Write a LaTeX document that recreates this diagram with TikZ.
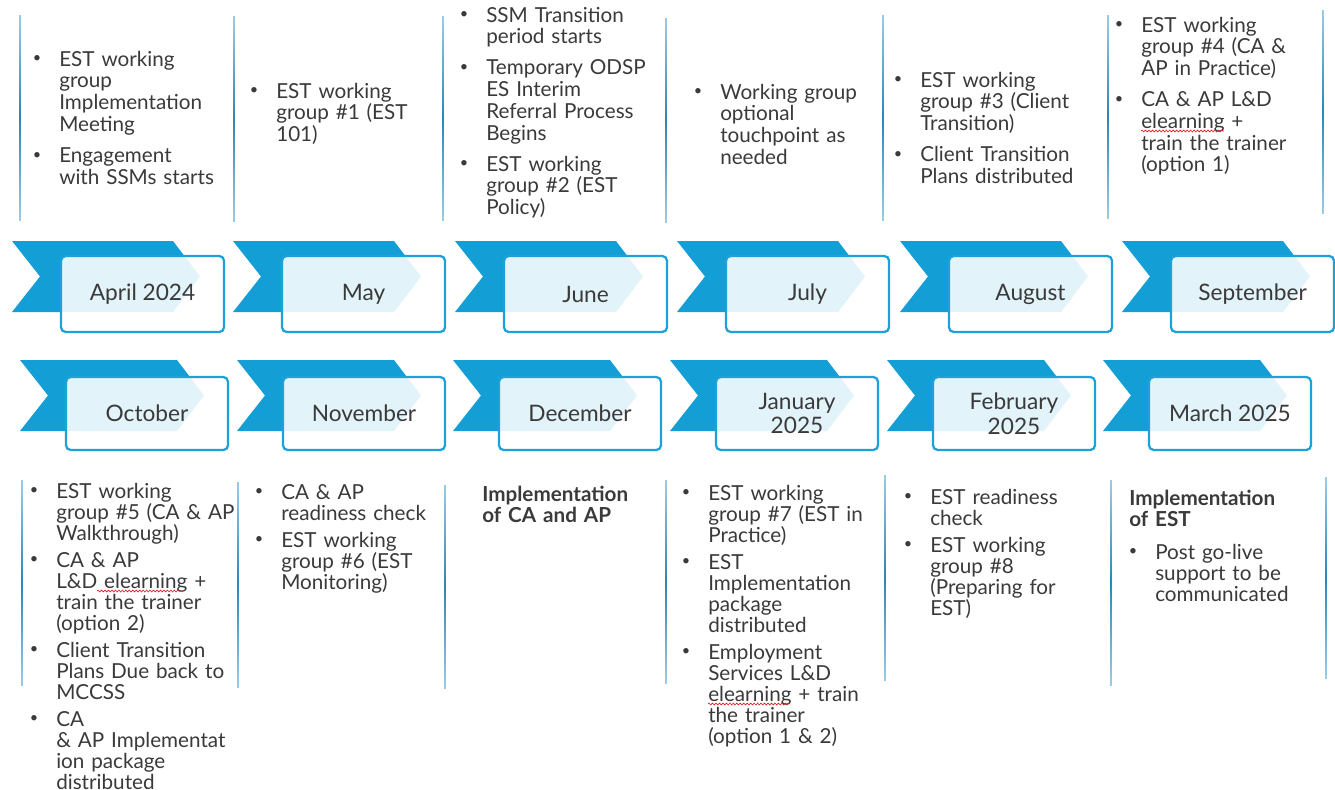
\documentclass[tikz,border=0pt]{standalone}
\usepackage{fontspec}
\setmainfont{Lato}
\usetikzlibrary{decorations.pathmorphing}
\definecolor{chev}{HTML}{139FD6}
\definecolor{boxb}{HTML}{1DA1D8}
\definecolor{txt}{HTML}{3A3A3A}
\definecolor{vl}{HTML}{2E85B5}
\definecolor{vlend}{HTML}{9CCBE4}
\definecolor{spell}{HTML}{E02020}
\newcommand\bl{\noindent\llap{\raisebox{0.15em}{\scalebox{0.7}{\textbullet}}\hspace{13.5pt}}}
\newcommand\isepA{\par\vspace{7pt}}
\newcommand\isepB{\par\vspace{4.5pt}}
\tikzset{
  x=0.75pt, y=-0.75pt,
  chevron/.style={fill=chev},
  monthbox/.style={draw=boxb, line width=1.7pt, rounded corners=3.5pt, fill=white,
    fill opacity=0.88, text opacity=1, text=txt, align=center, inner sep=0pt,
    font=\fontsize{17}{18.5}\selectfont},
  rowA/.style={monthbox, minimum width=122.25pt, minimum height=57pt},
  rowB/.style={monthbox, minimum width=121.5pt, minimum height=54.75pt},
  col/.style={anchor=base west, inner sep=0pt, text width=180pt, text=txt,
    font=\fontsize{15.5}{16.3}\selectfont},
  colB/.style={col, font=\fontsize{15.5}{15.75}\selectfont},
  head/.style={colB, font=\fontsize{15.5}{16.3}\selectfont\bfseries},
  spellmark/.style={draw=spell, line width=0.5pt, decorate,
    decoration={snake, segment length=2.6pt, amplitude=0.7pt}}
}
\newcommand\vbar[3]{\shade[top color=vlend, bottom color=vlend, middle color=vl] (#1-0.9,#2) rectangle (#1+0.9,#3);}
\newcommand\chevA[1]{\fill[chevron] (#1,241) -- ++(161,0) -- ++(27,35.5) -- ++(-27,35.5) -- ++(-161,0) -- ++(28,-35.5) -- cycle;}
\newcommand\chevB[1]{\fill[chevron] (#1,360) -- ++(157,0) -- ++(27,35.5) -- ++(-27,35.5) -- ++(-157,0) -- ++(28,-35.5) -- cycle;}
\begin{document}
\begin{tikzpicture}
\useasboundingbox[fill=white] (0,0) rectangle (1335,789);
% vertical separators, top row
\vbar{20}{15}{220}
\vbar{234}{16}{221}
\vbar{443}{16}{220}
\vbar{666}{18}{222}
\vbar{883}{15}{220}
\vbar{1108}{15}{218}
\vbar{1323}{10}{213}
% vertical separators, bottom row
\vbar{22}{480}{685}
\vbar{238}{482}{687}
\vbar{445}{485}{688}
\vbar{666}{480}{683}
\vbar{885}{475}{680}
\vbar{1111}{480}{685}
\vbar{1326}{477}{678}
% chevrons
\chevA{12}\chevA{233}\chevA{455}\chevA{677}\chevA{900}\chevA{1122}
\chevB{20}\chevB{237}\chevB{453}\chevB{670}\chevB{887}\chevB{1103}
% month boxes
\node[rowA] (m1) at (142.5,294) {April 2024};
\node[rowA] (m2) at (363.5,294) {May};
\node[rowA] (m3) at (585.5,294) {June};
\node[rowA] (m4) at (807.5,294) {July};
\node[rowA] (m5) at (1030.5,294) {August};
\node[rowA] (m6) at (1252.5,294) {September};
\node[rowB] (m7) at (147,413.5) {October};
\node[rowB] (m8) at (364,413.5) {November};
\node[rowB] (m9) at (580,413.5) {December};
\node[rowB] (m10) at (797,413.5) {January\\2025};
\node[rowB] (m11) at (1014,413.5) {February\\2025};
\node[rowB] (m12) at (1230,413.5) {March 2025};
% top texts
\node[col] (t1) at (59,66) {\bl EST working\\group\\Implementation\\Meeting\isepA
 \bl Engagement\\with SSMs starts};
\node[col] (t2) at (276,98) {\bl EST working\\group \#1 (EST\\101)};
\node[col] (t3) at (486,22) {\bl SSM Transition\\period starts\isepA
 \bl Temporary ODSP\\ES Interim\\Referral Process\\Begins\isepA
 \bl EST working\\group \#2 (EST\\Policy)};
\node[col] (t4) at (720,99) {\bl Working group\\optional\\touchpoint as\\needed};
\node[col] (t5) at (920,87) {\bl EST working\\group \#3 (Client\\Transition)\isepA
 \bl Client Transition\\Plans distributed};
\node[col] (t6) at (1141,32) {\bl EST working\\group \#4 (CA \&\\AP in Practice)\isepA
 \bl CA \& AP L\&D\\elearning +\\train the trainer\\(option 1)};
% bottom texts
\node[colB] (b1) at (56,498) {\bl EST working\\group \#5 (CA \& AP\\Walkthrough)\isepB
 \bl CA \& AP\\L\&D elearning +\\train the trainer\\(option 2)\isepB
 \bl Client Transition\\Plans Due back to\\MCCSS\isepB
 \bl CA\\\& AP Implementat\\ion package\\distributed};
\node[colB] (b2) at (281,499) {\bl CA \& AP\\readiness check\isepB
 \bl EST working\\group \#6 (EST\\Monitoring)};
\node[head] (b3) at (482,501) {Implementation\\of CA and AP};
\node[colB] (b4) at (708,500) {\bl EST working\\group \#7 (EST in\\Practice)\isepB
 \bl EST\\Implementation\\package\\distributed\isepB
 \bl Employment\\Services L\&D\\elearning + train\\the trainer\\(option 1 \& 2)};
\node[colB] (b5) at (930,504) {\bl EST readiness\\check\isepB
 \bl EST working\\group \#8\\(Preparing for\\EST)};
\node[head] (b6) at (1129,505) {Implementation\\of EST};
\node[colB] (b7) at (1155,559) {\bl Post go-live\\support to be\\communicated};
% spell-check marks
\draw[spellmark] (1141,131) -- (1224,131);
\draw[spellmark] (97,591) -- (180,591);
\draw[spellmark] (708,704) -- (790,704);
\end{tikzpicture}
\end{document}
